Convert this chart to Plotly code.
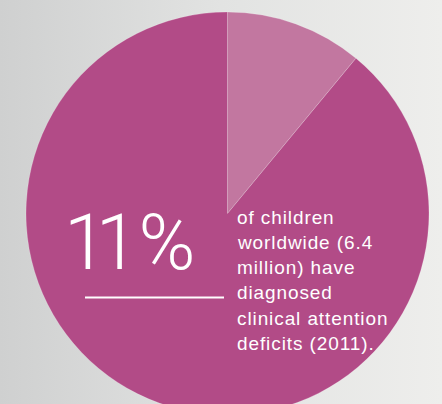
import plotly.graph_objects as go

# ---- data ----
labels = ["Diagnosed attention deficits", "Other children"]
values = [11, 89]
slice_colors = ["#c277a0", "#b24b87"]
big_label = "11%"
caption_lines = [
    "of children",
    "worldwide (6.4",
    "million) have",
    "diagnosed",
    "clinical attention",
    "deficits (2011).",
]

W, H = 442, 416


def px(x):
    return x / W


def py(y):
    return 1 - y / H


fig = go.Figure()

# background gradient
fig.add_trace(go.Scatter(
    x=[0, 1, 1, 0, 0], y=[0, 0, 1, 1, 0], mode="lines", fill="toself",
    line=dict(width=0),
    fillgradient=dict(type="horizontal",
                      colorscale=[[0, "#cfd0d0"], [0.5, "#e2e3e2"], [1, "#eeeeec"]]),
    hoverinfo="skip", showlegend=False))

fig.add_trace(go.Pie(
    labels=labels, values=values, sort=False, direction="clockwise", rotation=0,
    marker=dict(colors=slice_colors, line=dict(color="rgba(255,255,255,0.35)", width=0.6)),
    textinfo="none", hoverinfo="label+percent", showlegend=False,
    domain=dict(x=[px(26), px(429)], y=[py(415), py(12)]),
))

# big number (tight tracking between the two ones)
big_text = f'<span style="letter-spacing:-11px">{big_label[0]}</span>{big_label[1:]}'
fig.add_annotation(
    x=px(129), y=py(243), xref="paper", yref="paper", text=big_text, showarrow=False,
    xanchor="center", yanchor="middle",
    font=dict(family="Roboto", size=77, color="white", weight=300))

# underline
fig.add_shape(type="line", xref="paper", yref="paper",
              x0=px(85), x1=px(224), y0=py(297.5), y1=py(297.5),
              line=dict(color="white", width=2))

# caption
for i, line in enumerate(caption_lines):
    fig.add_annotation(
        x=px(235), y=py(217 + 25.3 * i), xref="paper", yref="paper",
        text=f'<span style="letter-spacing:0.9px">{line}</span>',
        showarrow=False, xanchor="left", yanchor="middle",
        font=dict(family="Liberation Sans", size=19, color="white"))

fig.update_xaxes(range=[0, 1], visible=False, fixedrange=True)
fig.update_yaxes(range=[0, 1], visible=False, fixedrange=True)
fig.update_layout(
    width=W, height=H, margin=dict(l=0, r=0, t=0, b=0),
    paper_bgcolor="#e0e1e0", plot_bgcolor="rgba(0,0,0,0)",
    xaxis=dict(domain=[0, 1]), yaxis=dict(domain=[0, 1]),
)

fig.write_html(
    "out.html",
    config={"displayModeBar": False},
    post_script="document.documentElement.style.overflow='hidden';document.body.style.overflow='hidden';document.body.style.margin='0';",
)
